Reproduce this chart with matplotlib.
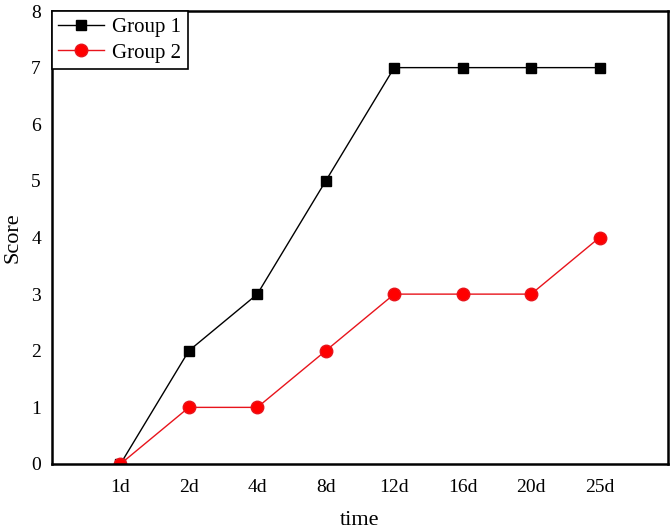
import numpy as np
import matplotlib.pyplot as plt

plt.rcParams['font.family'] = ['Liberation Serif', 'DejaVu Serif']

times = ['1d', '2d', '4d', '8d', '12d', '16d', '20d', '25d']
group1 = [0, 2, 3, 5, 7, 7, 7, 7]
group2 = [0, 1, 1, 2, 3, 3, 3, 4]

x = np.arange(len(times))

fig = plt.figure(figsize=(6.7, 5.31), dpi=100)
ax = fig.add_axes([52 / 670, 1 - 464 / 531, 616 / 670, 453 / 531])

ax.plot(x, group1, color='black', lw=1, marker='s', ms=7, label='Group 1')
ax.plot(x, group2, color='#e8141c', lw=1, marker='o', ms=9,
        mfc='#ff0000', mec='#e8141c', label='Group 2')

ax.set_xlim(-1, 8)
ax.set_ylim(0, 8)
ax.set_xticks(x)
ax.set_xticklabels(times)
ax.set_yticks(range(9))
ax.tick_params(length=0, labelsize=14, pad=8)
ax.tick_params(axis='x', pad=11)
for s in ax.spines.values():
    s.set_linewidth(1.8)

ax.set_xlabel('time', fontsize=16)
ax.xaxis.set_label_coords(0.5, -0.104)
ax.set_ylabel('Score', fontsize=16, labelpad=6)

leg = ax.legend(loc='upper left', fontsize=15, frameon=True, fancybox=False,
                borderaxespad=0, handlelength=2.2, borderpad=0.3,
                labelspacing=0.3, handletextpad=0.4)
leg.get_frame().set_edgecolor('black')
leg.get_frame().set_linewidth(1.2)
leg.get_frame().set_alpha(1)

fig.savefig('out.png', dpi=100)
